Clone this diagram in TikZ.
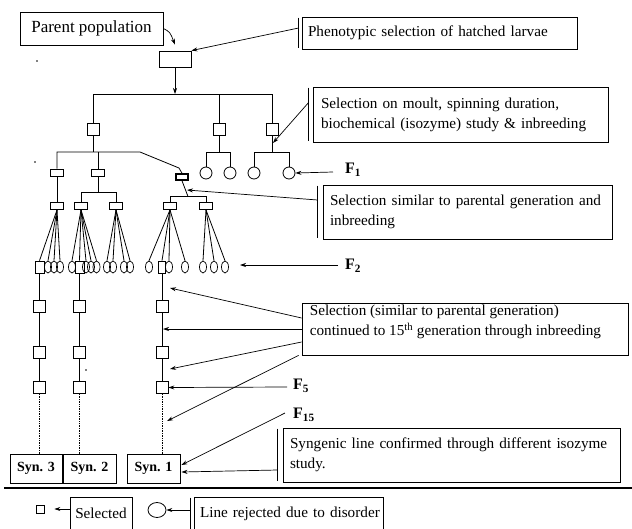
\documentclass[tikz,border=0pt]{standalone}
\usepackage{fontspec}
\setmainfont{Liberation Serif}
\usetikzlibrary{shapes.geometric,arrows.meta,calc}
\begin{document}
\begin{tikzpicture}[x=1pt,y=-1pt,
  every node/.style={inner sep=0pt},
  ln/.style={line width=0.8pt},
  tb/.style={draw, line width=0.8pt, fill=white, font=\fontsize{15.2}{20}\selectfont, align=left},
  sq/.style={draw, line width=0.8pt, minimum width=12pt, minimum height=12pt},
  fsq/.style={draw, line width=0.7pt, minimum width=9pt, minimum height=12pt},
  fl/.style={draw, line width=0.8pt, minimum width=13pt, minimum height=7pt},
  rc/.style={draw, circle, line width=0.8pt, minimum size=12pt},
  ov/.style={draw, ellipse, line width=0.7pt, minimum width=7pt, minimum height=12pt},
  arr/.style={line width=0.7pt, -{Stealth[length=6pt,width=4pt]}},
  flab/.style={font=\fontsize{16}{18}\selectfont\bfseries, anchor=west},
  synb/.style={draw, line width=0.8pt, minimum width=53pt, minimum height=29pt, font=\fontsize{14}{16}\selectfont\bfseries},
  dotl/.style={line width=0.7pt, densely dotted}
]
\useasboundingbox (0,0) rectangle (632,528);

% ---------- top ----------
\node[tb, align=center, minimum width=143pt, minimum height=33pt, font=\fontsize{17}{20}\selectfont] (parent) at (91.5,28.5) {Parent population};
\node[draw, line width=0.8pt, minimum width=32pt, minimum height=16pt] (r0) at (175,59) {};
\node[tb, text width=263pt, inner xsep=6pt, minimum height=32pt] (phen) at (439.5,33) {\mbox{Phenotypic selection of hatched larvae}};
\draw[ln] ($(phen.north west)+(-3,1)$) -- ($(phen.south west)+(-3,-1)$);
\draw[arr] (parent.east) .. controls (170,32) .. ($(r0.north)+(0,-6)$);
\draw[arr] ($(phen.west)+(-3,-5)$) -- (r0.north east);

\coordinate (b0) at (175,94);
\draw[arr] (r0.south) -- (b0);
\node[sq] (s1) at (93,129) {};
\node[sq] (s2) at (219,129) {};
\node[sq] (s3) at (272,129) {};
\draw[ln] (s1.north) -- (s1.north |- b0) -- (s3.north |- b0) -- (s3.north);
\draw[ln] (s2.north) -- (s2.north |- b0);

\node[tb, text width=279pt, inner xsep=8pt, minimum height=55pt] (moult) at (460.5,114.5) {\mbox{Selection on moult, spinning duration,}\\ \mbox{biochemical (isozyme) study \& inbreeding}};
\draw[ln] ($(moult.north west)+(-4,1)$) -- ($(moult.south west)+(-4,-1)$);
\coordinate (a1) at (273,143);
\draw[arr] ($(moult.west)+(-4,-12)$) -- (a1);

% ---------- level under s1 ----------
\coordinate (b1) at (93,152);
\node[fl] (l2a) at (57,172.5) {};
\node[fl] (l2b) at (98,172.5) {};
\node[fl, line width=1.5pt, minimum width=12pt, minimum height=6pt] (l2c) at (182,177) {};
\coordinate (k1) at (140,152);
\coordinate (k2) at (179,168);
\draw[ln] (s1.south) -- (b1);
\draw[ln] (l2a.north) |- (k1) -- (k2) -- (l2c.north);
\draw[ln] (l2b.north) -- (l2b.north |- b1);

% rejected F1 lines
\node[rc] (c1) at (206,173) {};
\node[rc] (c2) at (230,173) {};
\node[rc] (c3) at (254,173) {};
\node[rc] (c4) at (289,173) {};
\draw[ln] (s2.south) -- (s2.south |- b1);
\draw[ln] (c1.north) |- (c2.north |- b1) -- (c2.north);
\draw[ln] (s3.south) -- (s3.south |- b1);
\draw[ln] (c3.north) |- (c4.north |- b1) -- (c4.north);

\node[flab] (f1) at (345,170) {F\textsubscript{1}};
\draw[arr] ($(f1.west)+(-12,2)$) -- (c4.east);

% ---------- level 3 ----------
\node[fl] (l3a) at (57,206) {};
\node[fl] (l3b) at (81,206) {};
\node[fl] (l3c) at (116,206) {};
\node[fl] (l3d) at (170,206) {};
\node[fl] (l3e) at (206,206) {};
\draw[ln] (l2a) -- (l3a);
\coordinate (b2) at (98,192);
\draw[ln] (l2b.south) -- (b2);
\draw[ln] (l3b.north) |- (l3c.north |- b2) -- (l3c.north);
\coordinate (b3) at (188,196.5);
\draw[ln] (l2c.south) -- (b3);
\draw[ln] (l3d.north) |- (l3e.north |- b3) -- (l3e.north);

\node[tb, text width=275pt, inner xsep=7pt, minimum height=54pt] (simil) at (467.5,212) {\mbox{Selection similar to parental generation and}\\ inbreeding};
\draw[ln] ($(simil.north west)+(-5,1)$) -- ($(simil.south west)+(-5,-1)$);
\coordinate (a2) at (187,190);
\draw[arr] ($(simil.west)+(-5,-12)$) -- (a2);

% ---------- F2 row ----------
\node[fsq] (q3) at (39.5,267) {};
\node[ov] (o1) at (48,267) {};
\node[ov] (o2) at (54,267) {};
\node[ov] (o3) at (60,267) {};
\foreach \t in {q3,o1,o2,o3} \draw[ln] (l3a.south) -- (\t.north);

\node[ov] (o4) at (72,267) {};
\node[fsq] (q2) at (79.5,267) {};
\node[ov] (o5) at (86,267) {};
\node[ov] (o6) at (91,267) {};
\node[ov] (o7) at (96.5,267) {};
\foreach \t in {o4,q2,o5,o6,o7} \draw[ln] (l3b.south) -- (\t.north);

\node[ov] (o8) at (107,267) {};
\node[ov] (o9) at (113,267) {};
\node[ov] (o10) at (124,267) {};
\node[ov] (o11) at (130,267) {};
\foreach \t in {o8,o9,o10,o11} \draw[ln] (l3c.south) -- (\t.north);

\node[ov] (o12) at (149,267) {};
\node[fsq, minimum width=7pt] (q1) at (162,267) {};
\node[ov] (o13) at (169,267) {};
\node[ov] (o14) at (185,267) {};
\foreach \t in {o12,q1,o13,o14} \draw[ln] (l3d.south) -- (\t.north);

\node[ov] (o15) at (203,267) {};
\node[ov] (o16) at (214,267) {};
\node[ov] (o17) at (225,267) {};
\foreach \t in {o15,o16,o17} \draw[ln] (l3e.south) -- (\t.north);

\node[flab] (f2) at (345,266) {F\textsubscript{2}};
\coordinate (a3) at (240,265);
\draw[arr] ($(f2.west)+(-7,-1)$) -- (a3);

% ---------- columns ----------
\foreach \c/\x in {A/39.5,B/79.5,C/162}{
  \node[sq] (\c1) at (\x,306.5) {};
  \node[sq] (\c2) at (\x,352.5) {};
  \node[sq] (\c3) at (\x,387.5) {};
  \draw[ln] (\c1) -- (\c2);
  \draw[ln] (\c2) -- (\c3);
}
\draw[ln, line width=0.6pt] (q3) -- (A1);
\draw[ln] (q2) -- (B1);
\draw[ln] (q1) -- (C1);

\node[synb, minimum width=52pt] (syn3) at (36,468.5) {Syn. 3};
\node[synb] (syn2) at (89.5,468.5) {Syn. 2};
\node[synb] (syn1) at (153.5,468.5) {Syn. 1};
\draw[dotl] (A3.south) -- (A3.south |- syn3.north);
\draw[dotl] (B3.south) -- (B3.south |- syn2.north);
\draw[dotl] (C3.south) -- (C3.south |- syn1.north);

% ---------- big selection box ----------
\node[draw, line width=0.8pt, fill=white, minimum width=326pt, minimum height=52pt] (cont) at (465,329) {};
\node[anchor=north west, align=left, font=\fontsize{15.2}{20}\selectfont] (conttxt) at ($(cont.north west)+(8,2)$) {Selection (similar to parental generation)\\ continued to 15\textsuperscript{th} generation through inbreeding};
\coordinate (a4) at (170,288);
\coordinate (a5) at (163,329);
\coordinate (a6) at (170,369);
\coordinate (a7) at (167,421);
\draw[arr] ($(cont.west)+(0,-11)$) -- (a4);
\draw[arr] (cont.west) -- (a5);
\draw[arr] ($(cont.west)+(0,13)$) -- (a6);
\draw[arr] ($(cont.south west)+(-3,0)$) -- (a7);

\node[flab] (f5) at (293,386) {F\textsubscript{5}};
\draw[arr] ($(f5.west)+(-6,1)$) -- (C3.east);
\node[flab] (f15) at (293,415) {F\textsubscript{15}};
\draw[arr] ($(f15.west)+(-8,-2)$) -- ($(syn1.east)+(1,-3.5)$);

\node[tb, text width=323pt, inner xsep=7pt, minimum height=54pt] (syng) at (451.5,455) {\mbox{Syngenic line confirmed through different isozyme}\\ study.};
\draw[ln] ($(syng.north west)+(-5,1)$) -- ($(syng.south west)+(-5,-1)$);
\draw[arr] ($(syng.west)+(-5,15)$) -- ($(syn1.east)+(1,3.5)$);

% ---------- divider ----------
\draw[line width=2.5pt] (4,488) -- (632,488);

% ---------- legend ----------
\node[draw, line width=0.7pt, minimum size=8pt] (lsq) at (40,509) {};
\node[tb, align=center, minimum width=62pt, minimum height=33pt] (selected) at (101,513.5) {Selected};
\draw[arr, shorten >=10pt] (selected.west |- lsq.east) -- (lsq.east);
\node[draw, ellipse, line width=0.8pt, minimum width=18pt, minimum height=15pt] (lc) at (157,510) {};
\node[tb, text width=177pt, inner xsep=6pt, minimum height=33pt] (rej) at (288.5,513.5) {\mbox{Line rejected due to disorder}};
\draw[ln] ($(rej.north west)+(-3,1)$) -- ($(rej.south west)+(-3,-1)$);
\draw[arr] ($(rej.west)+(-3,-3.5)$) -- (lc.east);

% scan specks
\fill (37,61) circle (0.9pt);
\fill (35,162) circle (0.9pt);
\fill (86,370) circle (0.9pt);
\end{tikzpicture}
\end{document}
